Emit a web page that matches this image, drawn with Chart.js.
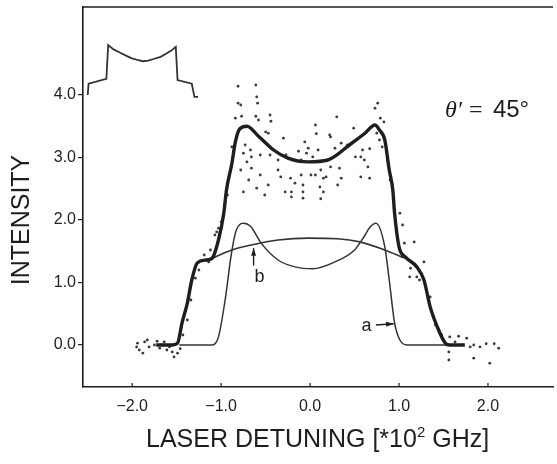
<!DOCTYPE html>
<html>
<script src="https://cdn.jsdelivr.net/npm/chart.js"></script>
<style type="text/css">
  body { margin: 0; background: #fff; }
</style>
<body>
  <canvas id="myChart" width="557" height="464"></canvas>

  <script>
    // measured data, x in 10^2 GHz, y intensity
    const fitX = [-1.73, -1.55, -1.49, -1.44, -1.38, -1.33, -1.27, -1.17, -1.10, -1.03, -0.97, -0.94, -0.88, -0.84, -0.79, -0.71, -0.58, -0.41, -0.25, -0.02, 0.20, 0.46, 0.61, 0.73, 0.78, 0.84, 0.89, 0.93, 0.95, 1.00, 1.07, 1.20, 1.28, 1.35, 1.43, 1.52, 1.57, 1.74];
    const fitY = [0, 0, 0.03, 0.35, 0.67, 1.04, 1.31, 1.36, 1.39, 1.68, 2.11, 2.48, 2.90, 3.25, 3.46, 3.50, 3.34, 3.12, 2.99, 2.93, 2.96, 3.22, 3.38, 3.52, 3.44, 3.28, 2.80, 2.48, 2.11, 1.57, 1.41, 1.25, 1.04, 0.61, 0.29, 0.03, 0, 0];

    const curveAX = [-1.47, -1.10, -1.03, -0.95, -0.89, -0.84, -0.78, -0.75, -0.67, -0.55, -0.36, -0.17, 0.03, 0.28, 0.50, 0.61, 0.67, 0.74, 0.84, 0.89, 0.95, 1.01, 1.09, 1.57];
    const curveAY = [0, 0, 0.13, 0.77, 1.41, 1.79, 1.94, 1.95, 1.90, 1.63, 1.36, 1.25, 1.22, 1.33, 1.52, 1.74, 1.88, 1.95, 1.57, 1.04, 0.35, 0.08, 0, 0];

    const curveBX = [-1.17, -0.88, -0.66, -0.36, -0.02, 0.31, 0.56, 0.84, 1.06];
    const curveBY = [1.34, 1.52, 1.60, 1.68, 1.71, 1.70, 1.65, 1.52, 1.39];

    const insetX = [-2.50, -2.49, -2.29, -2.27, -2.21, -2.14, -2.07, -2.01, -1.94, -1.88, -1.82, -1.75, -1.68, -1.62, -1.56, -1.51, -1.49, -1.33, -1.30, -1.26];
    const insetY = [4.00, 4.18, 4.26, 4.80, 4.73, 4.68, 4.63, 4.59, 4.56, 4.54, 4.55, 4.58, 4.61, 4.66, 4.71, 4.77, 4.24, 4.18, 3.97, 3.97];

    const measured = [
      [-1.95,-0.03],[-1.94,0.03],[-1.92,-0.08],[-1.88,-0.13],[-1.86,0.05],[-1.83,0.08],[-1.81,-0.03],[-1.75,0.00],[-1.72,0.06],
      [-1.69,-0.05],[-1.66,0.00],[-1.64,0.05],[-1.61,-0.08],[-1.58,-0.03],[-1.55,-0.11],[-1.53,-0.19],[-1.49,-0.13],[-1.46,-0.06],
      [-1.43,0.16],[-1.38,0.40],[-1.34,0.72],[-1.29,1.07],[-1.25,1.20],[-1.19,1.44],[-1.14,1.33],[-1.12,1.52],[-1.07,1.76],
      [-1.05,1.81],[-1.03,1.87],[-1.00,1.97],[-0.96,2.24],[-0.93,2.40],
      [-0.81,4.14],[-0.61,4.16],[-0.81,3.87],[-0.78,3.84],[-0.60,3.97],[-0.59,3.87],[-0.84,3.63],[-0.77,3.66],[-0.61,3.66],
      [-0.58,3.60],[-0.45,3.68],[-0.44,3.58],[-0.50,3.41],[-0.47,3.39],[-0.30,3.31],[-0.06,3.25],[0.06,3.52],[0.07,3.38],
      [-0.73,3.20],[-0.67,3.12],[-0.75,3.07],[-0.66,3.01],[-0.71,2.93],[-0.56,3.04],[-0.45,3.04],[-0.36,2.96],[-0.27,3.04],
      [-0.13,3.10],[-0.02,3.15],[-0.10,2.72],[-0.22,2.67],[-0.17,2.59],[-0.36,2.80],[-0.66,2.83],[-0.33,2.69],[0.06,2.72],
      [0.15,2.67],[0.11,2.53],[-0.88,3.17],[-0.78,2.80],[-0.69,2.64],[-0.60,2.51],[-0.51,2.40],[-0.75,2.45],[-0.56,2.72],
      [-0.47,2.56],[-0.28,2.45],[-0.21,2.45],[-0.08,2.45],[0.15,2.45],[-0.21,2.37],[-0.08,2.35],[0.12,2.34],
      [0.76,3.87],[0.73,3.79],[0.79,3.63],[0.83,3.57],[0.30,3.65],[0.49,3.47],[0.23,3.33],[0.35,3.23],[0.42,3.20],
      [0.28,3.15],[0.09,3.12],[-0.04,3.07],[0.03,3.01],[-0.10,2.96],[0.59,3.12],[0.67,3.14],[0.51,3.01],[0.61,2.96],
      [0.65,2.85],[0.23,2.85],[0.33,2.83],[0.12,2.80],[0.01,2.72],[0.18,2.69],[0.35,2.67],[0.57,2.69],[0.67,2.67],
      [0.31,2.56],[-0.08,2.56],[0.75,3.39],[0.78,3.28],[0.81,3.17],[0.22,3.36],[0.57,3.01],
      [0.87,2.96],[0.90,2.64],[1.01,2.11],[1.04,1.92],[1.06,1.63],[1.17,1.65],[1.13,1.23],[1.20,1.09],[1.12,1.09],
      [1.28,1.33],[1.23,1.04],[1.35,0.77],[1.39,0.45],[1.41,0.32],[1.48,0.16],[1.56,-0.11],
      [1.57,0.13],[1.67,0.14],[1.76,0.11],[1.84,0.00],[1.91,-0.03],[1.98,0.02],[2.07,0.02],[2.12,-0.05],[1.56,-0.24],
      [1.84,-0.21],[2.02,-0.29],[1.80,-0.03],[1.63,0.05]
    ];

    const xTickVals = [-2, -1, 0, 1, 2];
    const yTickVals = [0, 1, 2, 3, 4];

    const ink = '#1e1e1e';
    const font = '"Liberation Sans", Arial, sans-serif';

    const toPts = (xs, ys) => xs.map((x, i) => ({x: x, y: ys[i]}));

    // labels and arrows on the plot, in data units
    const notes = [
      {text: 'b', x: -0.57, y: 1.09},
      {text: 'a', x: 0.635, y: 0.30}
    ];
    const arrows = [
      {x1: -0.635, y1: 1.27, x2: -0.635, y2: 1.55},
      {x1: 0.74, y1: 0.32, x2: 0.94, y2: 0.34}
    ];

    const noPad = (scale) => {
      scale.paddingTop = 0;
      scale.paddingBottom = 0;
      scale.paddingLeft = 0;
      scale.paddingRight = 0;
    };

    const decor = {
      id: 'decor',
      afterDatasetsDraw(chart) {
        const c = chart.ctx;
        const xs = chart.scales.x, ys = chart.scales.y;
        const a = chart.chartArea;
        c.save();
        c.strokeStyle = ink;
        c.fillStyle = ink;
        // top frame line
        c.lineWidth = 1.6;
        c.beginPath();
        c.moveTo(a.left, a.top);
        c.lineTo(a.right, a.top);
        c.stroke();
        // inner x ticks
        c.lineWidth = 1.2;
        xTickVals.forEach(v => {
          const px = xs.getPixelForValue(v);
          c.beginPath();
          c.moveTo(px, a.bottom);
          c.lineTo(px, a.bottom - 4);
          c.stroke();
        });
        // curve labels
        c.font = '18px ' + font;
        c.textAlign = 'center';
        c.textBaseline = 'middle';
        notes.forEach(n => c.fillText(n.text, xs.getPixelForValue(n.x), ys.getPixelForValue(n.y)));
        arrows.forEach(r => {
          const x1 = xs.getPixelForValue(r.x1), y1 = ys.getPixelForValue(r.y1);
          const x2 = xs.getPixelForValue(r.x2), y2 = ys.getPixelForValue(r.y2);
          const ang = Math.atan2(y2 - y1, x2 - x1);
          c.lineWidth = 1.4;
          c.beginPath();
          c.moveTo(x1, y1);
          c.lineTo(x2, y2);
          c.stroke();
          c.beginPath();
          c.moveTo(x2, y2);
          c.lineTo(x2 - 8 * Math.cos(ang - 0.32), y2 - 8 * Math.sin(ang - 0.32));
          c.lineTo(x2 - 8 * Math.cos(ang + 0.32), y2 - 8 * Math.sin(ang + 0.32));
          c.closePath();
          c.fill();
        });
        // theta' = 45 deg
        const tx = xs.getPixelForValue(1.516), ty = ys.getPixelForValue(3.65);
        c.textAlign = 'left';
        c.textBaseline = 'alphabetic';
        c.font = 'italic 24px "Liberation Serif", serif';
        c.fillText('θ′', tx, ty);
        c.font = '24px "Liberation Serif", serif';
        c.fillText('=', tx + 24, ty);
        c.font = '24px ' + font;
        c.fillText('45°', tx + 48, ty);
        c.restore();
      },
      afterDraw(chart) {
        const c = chart.ctx;
        c.save();
        c.fillStyle = ink;
        // y title
        c.translate(22, 220);
        c.rotate(-Math.PI / 2);
        c.font = '25px ' + font;
        c.textAlign = 'center';
        c.textBaseline = 'middle';
        c.fillText('INTENSITY', 0, 0);
        c.restore();
        // x title with superscript
        c.save();
        c.fillStyle = ink;
        c.textBaseline = 'alphabetic';
        c.textAlign = 'left';
        const p1 = 'LASER DETUNING [*10', sup = '2', p2 = ' GHz]';
        let x = 146;
        const base = 447;
        c.font = '25px ' + font;
        c.fillText(p1, x, base);
        x += c.measureText(p1).width;
        c.font = '15px ' + font;
        c.fillText(sup, x, base - 10);
        x += c.measureText(sup).width;
        c.font = '25px ' + font;
        c.fillText(p2, x, base);
        c.restore();
      }
    };

    var ctx = document.getElementById('myChart').getContext('2d');
    var myChart = new Chart(ctx, {
      type: 'scatter',
      data: {
        datasets: [{
          data: toPts(fitX, fitY),
          showLine: true,
          borderColor: ink,
          borderWidth: 3.4,
          pointRadius: 0,
          cubicInterpolationMode: 'monotone',
          order: 1
        }, {
          data: toPts(curveAX, curveAY),
          showLine: true,
          borderColor: '#333',
          borderWidth: 1.5,
          pointRadius: 0,
          cubicInterpolationMode: 'monotone',
          order: 2
        }, {
          data: toPts(curveBX, curveBY),
          showLine: true,
          borderColor: '#333',
          borderWidth: 1.6,
          pointRadius: 0,
          cubicInterpolationMode: 'monotone',
          order: 3
        }, {
          data: toPts(insetX, insetY),
          showLine: true,
          borderColor: '#333',
          borderWidth: 1.8,
          pointRadius: 0,
          tension: 0,
          order: 4
        }, {
          data: measured.map(p => ({x: p[0], y: p[1]})),
          showLine: false,
          pointRadius: 1.4,
          pointBorderWidth: 0,
          pointBackgroundColor: '#3a3a3a',
          order: 5
        }]
      },
      options: {
        responsive: false,
        animation: false,
        devicePixelRatio: 1,
        layout: { padding: { top: 7, left: 0, right: 0, bottom: 0 } },
        plugins: { legend: false, tooltip: { enabled: false } },
        font: { family: font },
        scales: {
          x: {
            type: 'linear',
            min: -2.553,
            max: 2.731,
            afterFit(scale) { scale.height = 77; noPad(scale); },
            afterBuildTicks(scale) { scale.ticks = xTickVals.map(v => ({value: v})); },
            grid: { drawOnChartArea: false, drawTicks: false },
            border: { color: ink, width: 1.6 },
            ticks: {
              padding: 10,
              color: '#222',
              font: { family: font, size: 16 },
              callback: v => (v < 0 ? '\u2212' : '') + Math.abs(v).toFixed(1)
            }
          },
          y: {
            min: -0.672,
            max: 5.408,
            afterFit(scale) { scale.width = 83; noPad(scale); },
            afterBuildTicks(scale) { scale.ticks = yTickVals.map(v => ({value: v})); },
            grid: { drawOnChartArea: false, tickLength: 5, color: ink, lineWidth: 1.2 },
            border: { color: ink, width: 1.6 },
            ticks: {
              padding: 2,
              color: '#222',
              font: { family: font, size: 16 },
              callback: v => v.toFixed(1)
            }
          }
        }
      },
      plugins: [decor]
    });
  </script>

</body>
</html>
